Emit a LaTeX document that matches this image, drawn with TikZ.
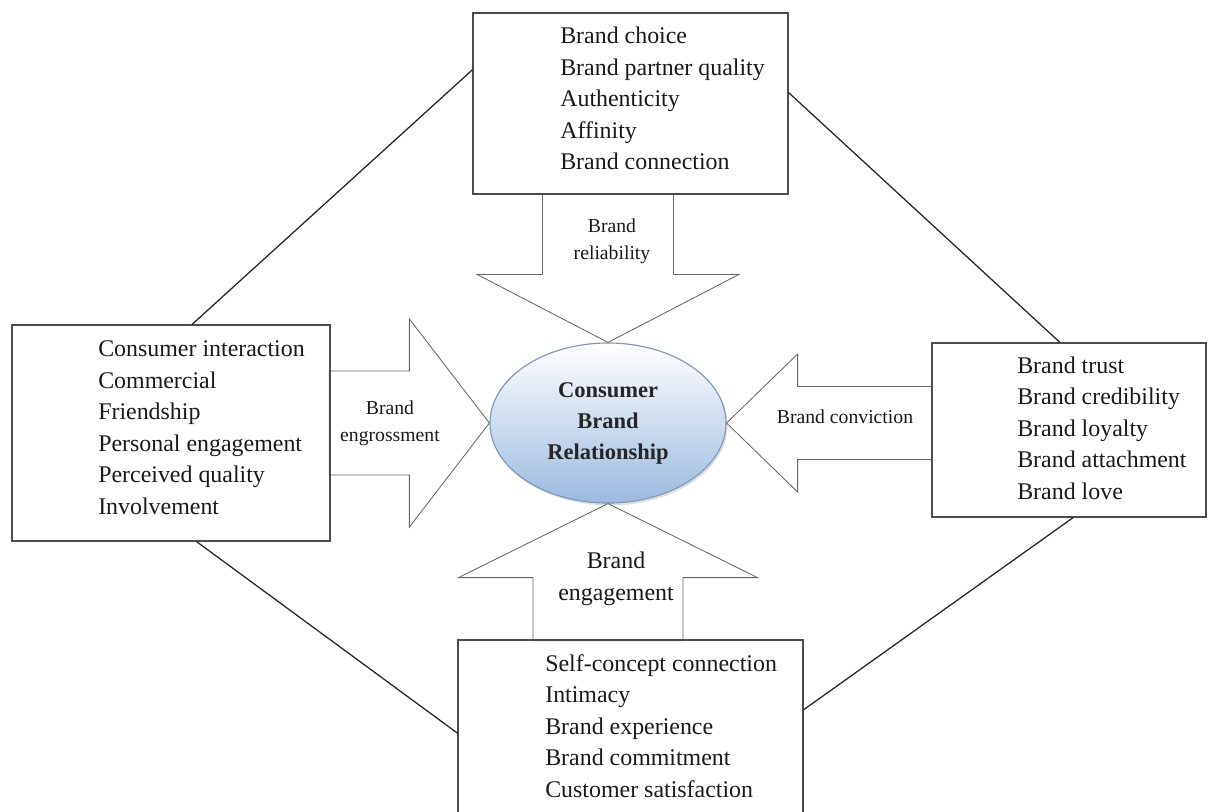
\documentclass[tikz,border=0pt]{standalone}
\usepackage{fontspec}
\setmainfont{Liberation Serif}
\usetikzlibrary{positioning,calc,shapes.geometric,shadows}
\definecolor{bubble}{RGB}{156,186,224}
\definecolor{rim}{RGB}{128,150,182}

\begin{document}
\begin{tikzpicture}[x=0.025cm,y=-0.025cm,
  box/.style={draw=black!70,line width=0.8pt,inner sep=0pt},
  items/.style={align=left,font=\fontsize{17}{22.4}\selectfont,text=black!90,inner sep=0pt},
  lab/.style={align=center,font=\fontsize{14}{19}\selectfont,text=black!90,inner sep=0pt},
  fat/.style={draw=black!60,line width=0.6pt,fill=white},
  tie/.style={draw=black!85,line width=0.9pt}]
  \useasboundingbox (0,0) rectangle (1208,811);
  \clip (0,0) rectangle (1208,811);

  % centre
  \node[ellipse,draw=rim,line width=0.8pt,minimum width=5.9cm,minimum height=4cm,inner sep=0pt,
    top color=white,bottom color=bubble,
    drop shadow={opacity=0.25,shadow xshift=0.04cm,shadow yshift=-0.06cm},
    align=center,font=\bfseries\fontsize{16}{22}\selectfont,text=black!85] (cbr) at (608,423)
    {Consumer\\Brand\\Relationship};

  % the four big arrows: tip/rotation/head half width/shaft half width/head length/length
  \foreach \tip/\rot/\hw/\sw/\hl/\len in {cbr.north/-90/131/65.5/68/149,cbr.west/0/104/52/80/160,
      cbr.east/180/69/36.5/71/205,cbr.south/90/149.5/75/74/137}
    \draw[fat,shift={(\tip)},rotate=\rot] (0,0) -- (-\hl,-\hw) -- (-\hl,-\sw) -- (-\len,-\sw)
      -- (-\len,\sw) -- (-\hl,\sw) -- (-\hl,\hw) -- cycle;

  % boxes
  \node[box,minimum width=7.875cm,minimum height=4.525cm] (topbox) at (630.5,103.5) {};
  \node[box,minimum width=7.95cm,minimum height=5.4cm] (leftbox) at (171,433) {};
  \node[box,minimum width=6.85cm,minimum height=4.35cm] (rightbox) at (1069,430) {};
  \node[box,minimum width=8.625cm,minimum height=4.75cm] (botbox) at (630.5,735) {};

  \node[items,anchor=west] (toplist) at (560,98.5)
    {Brand choice\\Brand partner quality\\Authenticity\\Affinity\\Brand connection};
  \node[items,anchor=west] (leftlist) at (98,427.5)
    {Consumer interaction\\Commercial\\Friendship\\Personal engagement\\Perceived quality\\Involvement};
  \node[items,anchor=west] (rightlist) at (1017,428)
    {Brand trust\\Brand credibility\\Brand loyalty\\Brand attachment\\Brand love};
  \node[items,anchor=west] (botlist) at (545,726)
    {Self-concept connection\\Intimacy\\Brand experience\\Brand commitment\\Customer satisfaction};

  % arrow labels
  \node[lab] (relab) at (612,241) {Brand\\reliability};
  \node[lab] (engrlab) at (390,423.5) {Brand\\engrossment};
  \node[lab] (convlab) at (845,417) {Brand conviction};
  \node[lab,font=\fontsize{17}{22.7}\selectfont] (engalab) at (616,579) {Brand\\engagement};

  % outer ring
  \draw[tie] ($(leftbox.north west)!0.566!(leftbox.north east)$) -- ($(topbox.north west)!0.315!(topbox.south west)$);
  \draw[tie] ($(topbox.north east)!0.44!(topbox.south east)$) -- ($(rightbox.north west)!0.467!(rightbox.north east)$);
  \draw[tie] ($(leftbox.south west)!0.58!(leftbox.south east)$) -- ($(botbox.north west)!0.49!(botbox.south west)$);
  \draw[tie] ($(botbox.north east)!0.368!(botbox.south east)$) -- ($(rightbox.south west)!0.515!(rightbox.south east)$);
\end{tikzpicture}
\end{document}
